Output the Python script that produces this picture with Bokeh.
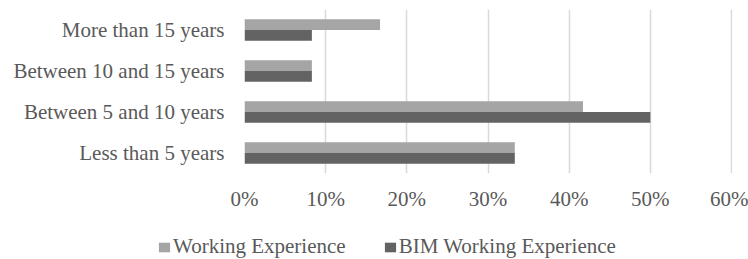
from bokeh.plotting import figure
from bokeh.layouts import column
from bokeh.models import (ColumnDataSource, FactorRange, Range1d, FixedTicker,
                          NumeralTickFormatter, Legend, LegendItem)
from bokeh.transform import dodge
from bokeh.embed import file_html
from bokeh.resources import INLINE

categories = ["Less than 5 years", "Between 5 and 10 years",
              "Between 10 and 15 years", "More than 15 years"]
working_experience = [0.333, 0.417, 0.083, 0.167]
bim_working_experience = [0.333, 0.500, 0.083, 0.083]
x_ticks = [0.0, 0.1, 0.2, 0.3, 0.4, 0.5, 0.6]
series_names = ["Working Experience", "BIM Working Experience"]

FONT = "Liberation Serif"
TEXT = "#595959"
C_LIGHT = "#A5A5A5"
C_DARK = "#636363"

src = ColumnDataSource(dict(cat=categories, we=working_experience,
                            bim=bim_working_experience))

p = figure(width=748, height=213, output_backend="svg", toolbar_location=None,
           y_range=FactorRange(*categories), x_range=Range1d(0, 0.6012),
           min_border_left=244, min_border_right=16, min_border_top=9,
           min_border_bottom=40)
p.frame_align = False
p.outline_line_color = None
p.background_fill_color = None
p.border_fill_color = None

p.hbar(y=dodge("cat", 0.13, range=p.y_range), right="we", left=0,
       height=0.26, source=src, fill_color=C_LIGHT, line_color=None)
p.hbar(y=dodge("cat", -0.13, range=p.y_range), right="bim", left=0,
       height=0.26, source=src, fill_color=C_DARK, line_color=None)

# x axis
p.xaxis.ticker = FixedTicker(ticks=x_ticks)
p.xaxis.formatter = NumeralTickFormatter(format="0%")
p.xaxis.axis_line_color = None
p.xaxis.major_tick_line_color = None
p.xaxis.minor_tick_line_color = None
p.xaxis.major_tick_out = 0
p.xaxis.major_label_standoff = 13
p.xaxis.major_label_text_font = FONT
p.xaxis.major_label_text_font_size = "21px"
p.xaxis.major_label_text_color = TEXT

# y axis
p.yaxis.axis_line_color = None
p.yaxis.major_tick_line_color = None
p.yaxis.minor_tick_line_color = None
p.yaxis.major_tick_out = 0
p.yaxis.major_label_standoff = 20
p.yaxis.major_label_text_font = FONT
p.yaxis.major_label_text_font_size = "21px"
p.yaxis.major_label_text_color = TEXT

p.ygrid.grid_line_color = None
p.xgrid.grid_line_color = "#D9D9D9"
p.xgrid.grid_line_width = 1.5

# legend strip (zero-height bars: only the legend shows)
lg = figure(width=748, height=46, output_backend="svg", toolbar_location=None,
            x_range=Range1d(0, 0.6012), y_range=FactorRange(*categories),
            x_axis_location=None, y_axis_location=None,
            min_border=0, min_border_left=0, min_border_right=0,
            min_border_top=0, min_border_bottom=0)
lg.frame_align = False
lg.grid.visible = False
lg.outline_line_color = None
lg.background_fill_color = None
lg.border_fill_color = None
k1 = lg.hbar(y="cat", right="we", left=0, height=0, source=src,
             fill_color=C_LIGHT, line_color=None)
k2 = lg.hbar(y="cat", right="bim", left=0, height=0, source=src,
             fill_color=C_DARK, line_color=None)

legend = Legend(items=[LegendItem(label=series_names[0], renderers=[k1]),
                       LegendItem(label=series_names[1], renderers=[k2])],
                orientation="horizontal", location=(157, 0),
                glyph_width=14, glyph_height=12, label_standoff=2,
                spacing=37, padding=0, margin=0,
                border_line_color=None, background_fill_alpha=0,
                label_text_font=FONT, label_text_font_size="21px",
                label_text_color=TEXT)
lg.add_layout(legend, "center")

layout = column(p, lg, spacing=0)
open("out.html", "w").write(file_html(layout, INLINE))
